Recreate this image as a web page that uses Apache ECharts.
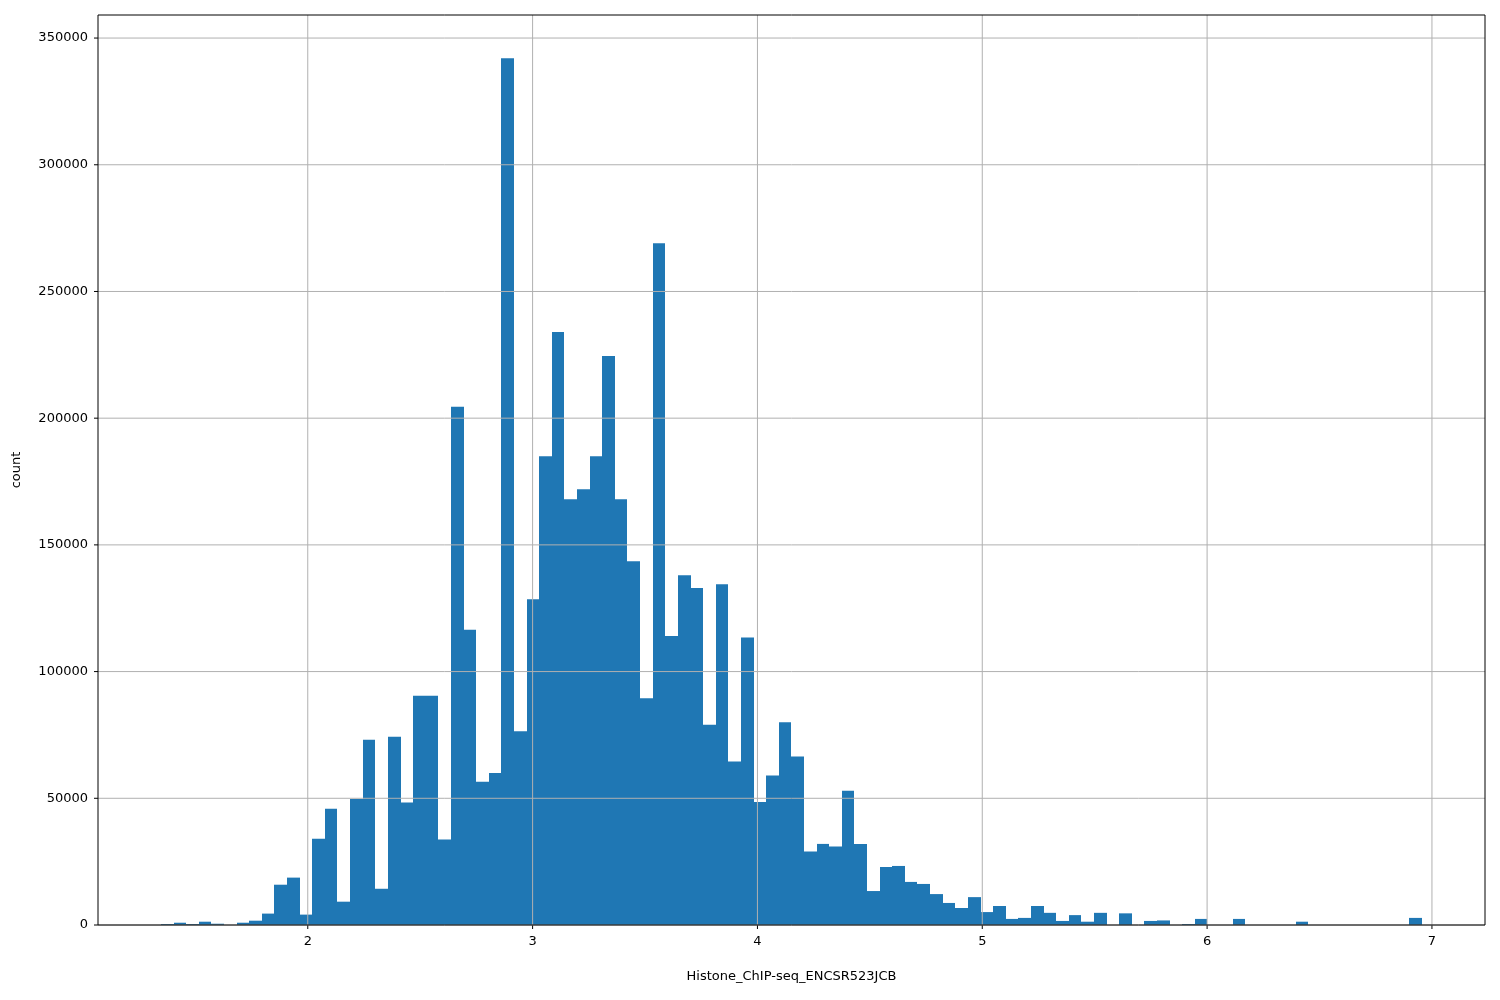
<!DOCTYPE html>
<html>
<head>
<meta charset="utf-8">
<script src="https://cdn.jsdelivr.net/npm/echarts@6/dist/echarts.min.js"></script>
<style>html,body{margin:0;padding:0;background:#fff}#chart{width:1500px;height:1000px}</style>
</head>
<body>
<div id="chart"></div>
<script>
// histogram bins: 100 bins from binStart to binEnd
var binStart = 1.347;
var binEnd = 6.955;
var counts = [
	400, 900, 400, 1300, 500, 0, 900, 1700, 4500, 15900,
	18700, 4100, 34000, 45900, 9200, 49700, 73100, 14300, 74300, 48300,
	90500, 90500, 33700, 204500, 116500, 56500, 60000, 342000, 76500, 128500,
	185000, 234000, 168000, 172000, 185000, 224500, 168000, 143500, 89500, 269000,
	114000, 138000, 133000, 79000, 134500, 64500, 113500, 48500, 59000, 80000,
	66500, 29000, 32000, 31000, 53000, 32000, 13400, 22900, 23300, 17000,
	16200, 12200, 8700, 6700, 11000, 5100, 7500, 2400, 2800, 7500,
	4800, 1600, 3900, 1300, 4800, 0, 4600, 0, 1600, 1800,
	0, 400, 2400, 0, 0, 2400, 0, 0, 0, 0,
	1300, 0, 0, 0, 0, 0, 0, 0, 0, 2800
];
var xTicks = [2, 3, 4, 5, 6, 7];

var binWidth = (binEnd - binStart) / counts.length;
var bars = counts.map(function(c, i) {
	return [binStart + i * binWidth, binStart + (i + 1) * binWidth, c];
});

var myChart = echarts.init(document.getElementById('chart'));
var font = 'DejaVu Sans';
myChart.setOption({
	animation: false,
	textStyle: { fontFamily: font },
	grid: { left: 98, right: 15, top: 15, bottom: 75 },
	xAxis: {
		type: 'value', min: 1.067, max: 7.236, z: 5,
		name: 'Histone_ChIP-seq_ENCSR523JCB', nameLocation: 'middle', nameGap: 45,
		nameTextStyle: { fontSize: 13, color: '#000', fontFamily: font },
		axisLine: { show: false },
		axisTick: { show: false },
		axisLabel: {
			color: '#000', fontSize: 13, fontFamily: font,
			customValues: xTicks, margin: 10
		},
		splitLine: { show: false }
	},
	yAxis: {
		type: 'value', min: 0, max: 359100, interval: 50000, z: 5,
		name: 'count', nameLocation: 'middle', nameGap: 75,
		nameTextStyle: { fontSize: 13, color: '#000', fontFamily: font },
		axisLine: { show: false },
		axisTick: { show: false },
		axisLabel: {
			color: '#000', fontSize: 13, fontFamily: font, margin: 10, showMaxLabel: false,
			formatter: function(v) { return String(v); }
		},
		splitLine: { show: false }
	},
	series: [{
		type: 'custom',
		z: 2,
		renderItem: function(params, api) {
			var p0 = api.coord([api.value(0), 0]);
			var p1 = api.coord([api.value(1), api.value(2)]);
			var x0 = Math.round(p0[0]), x1 = Math.round(p1[0]);
			var yb = Math.round(p0[1]);
			return {
				type: 'rect',
				shape: { x: x0, y: p1[1], width: x1 - x0, height: yb - p1[1] },
				style: { fill: '#1f77b4' }
			};
		},
		encode: { x: [0, 1], y: 2 },
		data: bars
	}, {
		// grid lines and ticks drawn above bars like matplotlib
		type: 'custom',
		z: 4,
		silent: true,
		renderItem: function(params, api) {
			if (params.dataIndex > 0) return null;
			var children = [];
			var cs = params.coordSys;
			xTicks.forEach(function(t) {
				var x = api.coord([t, 0])[0];
				children.push({ type: 'line', shape: { x1: x, y1: cs.y, x2: x, y2: cs.y + cs.height }, style: { stroke: '#b0b0b0', lineWidth: 1 } });
				children.push({ type: 'line', shape: { x1: x, y1: cs.y + cs.height, x2: x, y2: cs.y + cs.height + 4 }, style: { stroke: '#000', lineWidth: 1 } });
			});
			for (var v = 0; v <= 350000; v += 50000) {
				var y = api.coord([2, v])[1];
				children.push({ type: 'line', shape: { x1: cs.x, y1: y, x2: cs.x + cs.width, y2: y }, style: { stroke: '#b0b0b0', lineWidth: 1 } });
				children.push({ type: 'line', shape: { x1: cs.x - 4, y1: y, x2: cs.x, y2: y }, style: { stroke: '#000', lineWidth: 1 } });
			}
			children.push({ type: 'rect', shape: { x: cs.x, y: cs.y, width: cs.width, height: cs.height }, style: { fill: null, stroke: '#000', lineWidth: 1 } });
			return { type: 'group', children: children };
		},
		data: [[2, 0]]
	}]
});
</script>
</body>
</html>
